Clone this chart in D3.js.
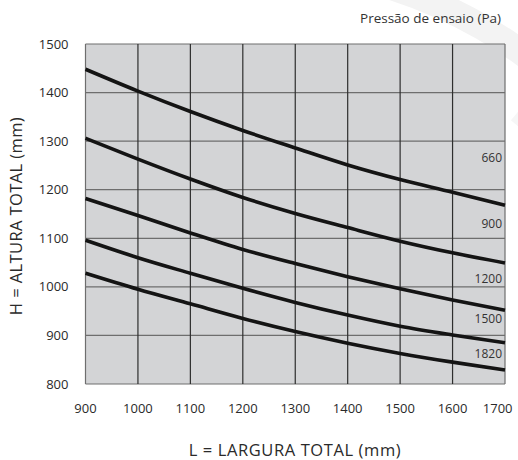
<!DOCTYPE html>
<html>
<head>
<meta charset="utf-8">
<script src="https://cdn.jsdelivr.net/npm/d3@7"></script>
<style>
  html, body { margin: 0; padding: 0; background: #fff; }
  svg { display: block; font-family: "Open Sans", "Noto Sans", sans-serif; }
</style>
</head>
<body>
<div id="chart"></div>
<script>
// ── Data ──────────────────────────────────────────────────────────────────────
const widths = [900, 1000, 1100, 1200, 1300, 1400, 1500, 1600, 1700];
const pressures = ['660', '900', '1200', '1500', '1820'];
const h660  = [1448, 1403, 1361, 1322, 1286, 1251, 1221, 1195, 1168];
const h900  = [1306, 1263, 1222, 1184, 1151, 1122, 1094, 1070, 1049];
const h1200 = [1182, 1147, 1111, 1077, 1048, 1021,  996,  973,  952];
const h1500 = [1096, 1060, 1028,  997,  968,  942,  919,  901,  885];
const h1820 = [1028,  995,  965,  935,  908,  884,  863,  845,  829];
const xTicks = [900, 1000, 1100, 1200, 1300, 1400, 1500, 1600, 1700];
const yTicks = [800, 900, 1000, 1100, 1200, 1300, 1400, 1500];

const series = [h660, h900, h1200, h1500, h1820];
// value where each pressure label sits (near right edge)
const labelAt = [1265, 1130, 1017, 934, 863];

// ── SVG setup ─────────────────────────────────────────────────────────────────
const W = 518, H = 460;
const svg = d3.select('#chart').append('svg')
  .attr('width', W).attr('height', H);

// faint watermark arcs, top right
const arc = d3.arc();
svg.append('path')
  .attr('transform', 'translate(250,430)')
  .attr('d', arc({ innerRadius: 452, outerRadius: 478, startAngle: 0.3, endAngle: 1.2 }))
  .attr('fill', '#f3f3f3');
svg.append('path')
  .attr('transform', 'translate(250,430)')
  .attr('d', arc({ innerRadius: 405, outerRadius: 430, startAngle: 0.7, endAngle: 1.3 }))
  .attr('fill', '#f6f6f6');

const x = d3.scaleLinear().domain([900, 1700]).range([85.5, 505]);
const y = d3.scaleLinear().domain([800, 1500]).range([384, 44]);

// plot background
svg.append('rect')
  .attr('x', x(900)).attr('y', y(1500))
  .attr('width', x(1700) - x(900)).attr('height', y(800) - y(1500))
  .attr('fill', '#d3d4d6');

// grid
svg.append('g').selectAll('line')
  .data(yTicks)
  .join('line')
  .attr('x1', x(900)).attr('x2', x(1700))
  .attr('y1', d => y(d)).attr('y2', d => y(d))
  .attr('stroke', '#6e6e6e').attr('stroke-width', 1.2);

svg.append('g').selectAll('line')
  .data(xTicks)
  .join('line')
  .attr('x1', d => x(d)).attr('x2', d => x(d))
  .attr('y1', y(1500)).attr('y2', y(800))
  .attr('stroke', d => (d === 900 || d === 1700) ? '#6e6e6e' : '#2e2e2e')
  .attr('stroke-width', 1.2);

// ── Curves ────────────────────────────────────────────────────────────────────
const line = d3.line()
  .x((d, i) => x(widths[i]))
  .y(d => y(d))
  .curve(d3.curveMonotoneX);

svg.append('g').selectAll('path')
  .data(series)
  .join('path')
  .attr('d', line)
  .attr('fill', 'none')
  .attr('stroke', '#141414')
  .attr('stroke-width', 3.6);

svg.append('g').selectAll('text')
  .data(pressures)
  .join('text')
  .attr('x', x(1700) - 3)
  .attr('y', (d, i) => y(labelAt[i]))
  .attr('dy', '0.35em')
  .attr('text-anchor', 'end')
  .attr('font-size', 12)
  .attr('fill', '#333')
  .text(d => d);

// ── Axes labels ───────────────────────────────────────────────────────────────
svg.append('g').selectAll('text')
  .data(yTicks)
  .join('text')
  .attr('x', 68.5)
  .attr('y', d => y(d))
  .attr('dy', '0.35em')
  .attr('text-anchor', 'end')
  .attr('font-size', 13)
  .attr('fill', '#2a2a2a')
  .text(d => d);

// last label is pulled inside the page edge
svg.append('g').selectAll('text')
  .data(xTicks)
  .join('text')
  .attr('x', d => d === 1700 ? 512.5 : x(d))
  .attr('y', 408)
  .attr('dy', '0.35em')
  .attr('text-anchor', d => d === 1700 ? 'end' : 'middle')
  .attr('font-size', 13)
  .attr('fill', '#2a2a2a')
  .text(d => d);

svg.append('text')
  .attr('x', 295).attr('y', 456)
  .attr('text-anchor', 'middle')
  .attr('font-size', 16.5)
  .attr('letter-spacing', 0.6)
  .attr('fill', '#2a2a2a')
  .text('L = LARGURA TOTAL (mm)');

svg.append('text')
  .attr('transform', 'translate(22,216) rotate(-90)')
  .attr('text-anchor', 'middle')
  .attr('font-size', 16.5)
  .attr('letter-spacing', 0.4)
  .attr('fill', '#2a2a2a')
  .text('H = ALTURA TOTAL (mm)');

svg.append('text')
  .attr('x', 501).attr('y', 23)
  .attr('text-anchor', 'end')
  .attr('font-size', 13.5)
  .attr('fill', '#333')
  .text('Pressão de ensaio (Pa)');
</script>
</body>
</html>
